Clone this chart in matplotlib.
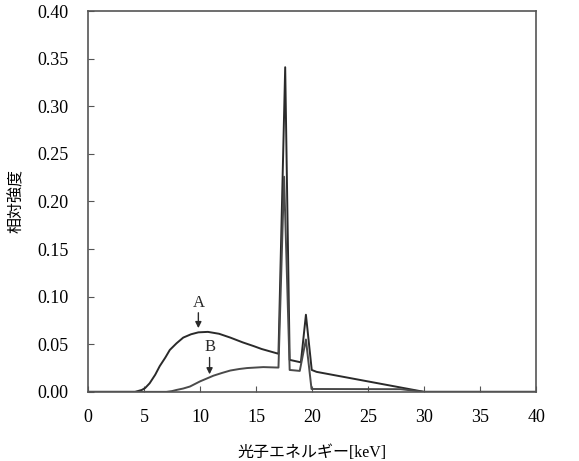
import matplotlib
matplotlib.use("Agg")
import matplotlib.pyplot as plt

# Data
energy_A = [0, 4.2, 4.8, 5.1, 5.5, 6.0, 6.4, 6.9, 7.3, 7.9, 8.5, 9.2, 9.85, 10.7, 11.7, 12.7, 13.8, 14.8, 15.5, 17.0, 17.6, 18.0, 19.0, 19.45, 19.97, 20.4, 30.0, 40.0]
value_A = [0, 0, 0.002, 0.004, 0.009, 0.018, 0.027, 0.036, 0.044, 0.051, 0.057, 0.0605, 0.0625, 0.063, 0.061, 0.057, 0.052, 0.048, 0.045, 0.040, 0.341, 0.0336, 0.031, 0.081, 0.023, 0.021, 0.0, 0.0]

energy_B = [0, 7.0, 7.5, 7.9, 8.5, 9.1, 10.0, 10.6, 11.2, 12.0, 12.7, 13.5, 14.2, 15.65, 17.0, 17.5, 18.0, 18.9, 19.45, 19.95, 27.9, 30.0, 40.0]
value_B = [0, 0, 0.0008, 0.002, 0.0035, 0.0056, 0.011, 0.014, 0.017, 0.020, 0.0224, 0.024, 0.025, 0.026, 0.0255, 0.226, 0.023, 0.022, 0.055, 0.003, 0.0028, 0.0, 0.0]

x_ticks = [0, 5, 10, 15, 20, 25, 30, 35, 40]
y_ticks = [0.00, 0.05, 0.10, 0.15, 0.20, 0.25, 0.30, 0.35, 0.40]
x_label = "光子エネルギー[keV]"
y_label = "相対強度"

serif = ["Liberation Serif", "Noto Sans CJK JP"]
gothic = ["Noto Sans CJK JP", "DejaVu Sans"]

fig = plt.figure(figsize=(5.79, 4.61), dpi=100)
ax = fig.add_axes([0.152, 0.150, 0.774, 0.826])

ax.plot(energy_A, value_A, color="#2a2a2a", lw=1.4)
ax.plot(energy_B, value_B, color="#4a4a4a", lw=1.4)

ax.set_xlim(0, 40)
ax.set_ylim(0, 0.40)
ax.set_xticks(x_ticks)
ax.set_yticks(y_ticks)
ax.set_xticklabels([str(t) for t in x_ticks], family=serif, fontsize=13)
ax.set_yticklabels([f"{t:.2f}" for t in y_ticks], family=serif, fontsize=13)
ax.tick_params(axis="both", direction="in", length=4, color="#555555")
ax.tick_params(axis="x", pad=12)
ax.tick_params(axis="y", pad=14)
for s in ax.spines.values():
    s.set_color("#555555")
    s.set_linewidth(1.2)

ax.set_xlabel(x_label, family=serif, fontsize=11.5, labelpad=14)
ax.set_ylabel(y_label, family=gothic, fontsize=11.5, labelpad=9)

ax.annotate("", xy=(9.85, 0.064), xytext=(9.85, 0.086),
            arrowprops=dict(arrowstyle="-|>", color="#2a2a2a", lw=1.0, mutation_scale=9))
ax.text(9.85, 0.093, "A", family=serif, fontsize=12, ha="center", va="center", color="#2a2a2a")
ax.annotate("", xy=(10.85, 0.0155), xytext=(10.85, 0.039),
            arrowprops=dict(arrowstyle="-|>", color="#2a2a2a", lw=1.0, mutation_scale=9))
ax.text(10.85, 0.0475, "B", family=serif, fontsize=12, ha="center", va="center", color="#2a2a2a")

fig.savefig("out.png", dpi=100)
